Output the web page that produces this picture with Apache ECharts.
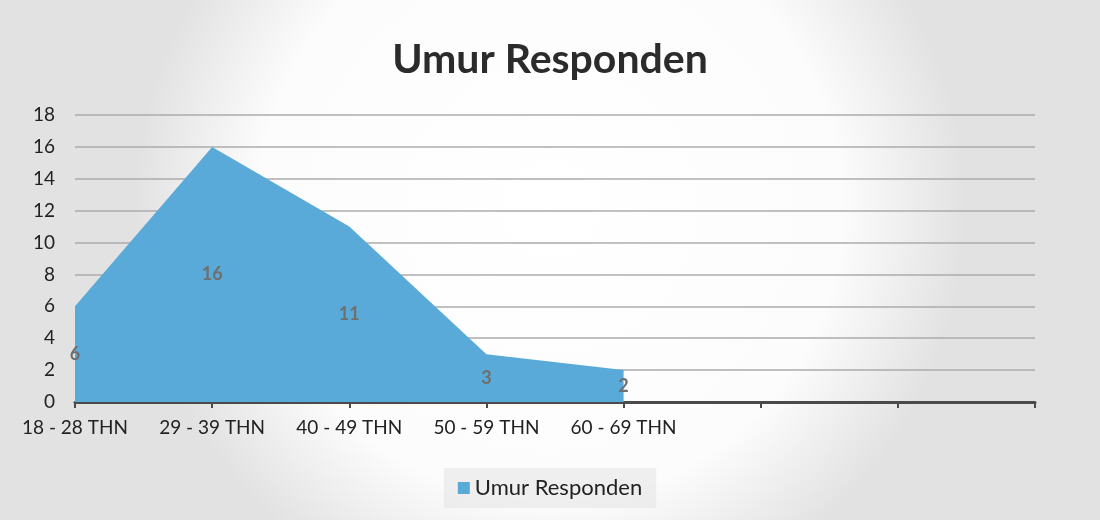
<!DOCTYPE html>
<html>
<head>
<meta charset="utf-8">
<script src="https://cdn.jsdelivr.net/npm/echarts@6/dist/echarts.min.js"></script>
<style>
  html, body { margin: 0; padding: 0; }
  #chart { width: 1100px; height: 520px; }
</style>
</head>
<body>
<div id="chart"></div>
<script>
var categories = ['18 - 28 THN', '29 - 39 THN', '40 - 49 THN', '50 - 59 THN', '60 - 69 THN', '', '', ''];
var values = [6, 16, 11, 3, 2, null, null, null];
var yTicks = { min: 0, max: 18, interval: 2 };
var seriesName = 'Umur Responden';

// labels sit in the middle of the filled area, like the office chart
var labelPoints = [];
values.forEach(function (v, i) {
  if (v != null) {
    labelPoints.push({ coord: [i, v / 2], value: v });
  }
});

var chart = echarts.init(document.getElementById('chart'));
chart.setOption({
  backgroundColor: {
    type: 'radial', x: 0.5, y: 0.4, r: 0.8,
    colorStops: [
      { offset: 0, color: '#ffffff' },
      { offset: 0.7, color: '#fcfcfc' },
      { offset: 1, color: '#e2e2e2' }
    ]
  },
  textStyle: { fontFamily: 'Lato' },
  title: {
    text: 'Umur Responden',
    left: 'center',
    top: 34,
    textStyle: { fontFamily: 'Lato', fontSize: 41, fontWeight: 'bold', color: '#2b2b2b' }
  },
  legend: {
    bottom: 12,
    left: 'center',
    itemWidth: 12,
    itemHeight: 12,
    itemGap: 6,
    icon: 'rect',
    padding: [9, 14, 9, 14],
    backgroundColor: 'rgba(225,225,225,0.5)',
    textStyle: { fontFamily: 'Lato', fontSize: 22, color: '#222' },
    data: [seriesName]
  },
  grid: { left: 75, right: 65, top: 115, bottom: 118 },
  xAxis: {
    type: 'category',
    data: categories,
    boundaryGap: false,
    axisLine: { lineStyle: { color: '#4a4a4a', width: 3 } },
    axisTick: { show: true, interval: 0, length: 6, lineStyle: { color: '#4a4a4a', width: 2 } },
    axisLabel: { interval: 0, hideOverlap: false, fontSize: 19, color: '#222', margin: 16 },
    splitLine: { show: false }
  },
  yAxis: {
    type: 'value',
    min: yTicks.min,
    max: yTicks.max,
    interval: yTicks.interval,
    axisLine: { show: false },
    axisTick: { show: false },
    axisLabel: { fontSize: 19, color: '#222', margin: 20 },
    splitLine: { lineStyle: { color: '#ababab', width: 1.5 } }
  },
  series: [{
    name: seriesName,
    type: 'line',
    data: values,
    symbol: 'none',
    lineStyle: { width: 0 },
    itemStyle: { color: '#5aaad9' },
    areaStyle: { color: '#5aaad9', opacity: 1 },
    z: 1,
    markPoint: {
      symbol: 'circle',
      symbolSize: 0,
      data: labelPoints,
      label: {
        show: true,
        position: 'inside',
        formatter: function (p) { return p.value; },
        fontSize: 18,
        fontWeight: 'bold',
        color: '#6f6f6f'
      }
    }
  }]
});
</script>
</body>
</html>
